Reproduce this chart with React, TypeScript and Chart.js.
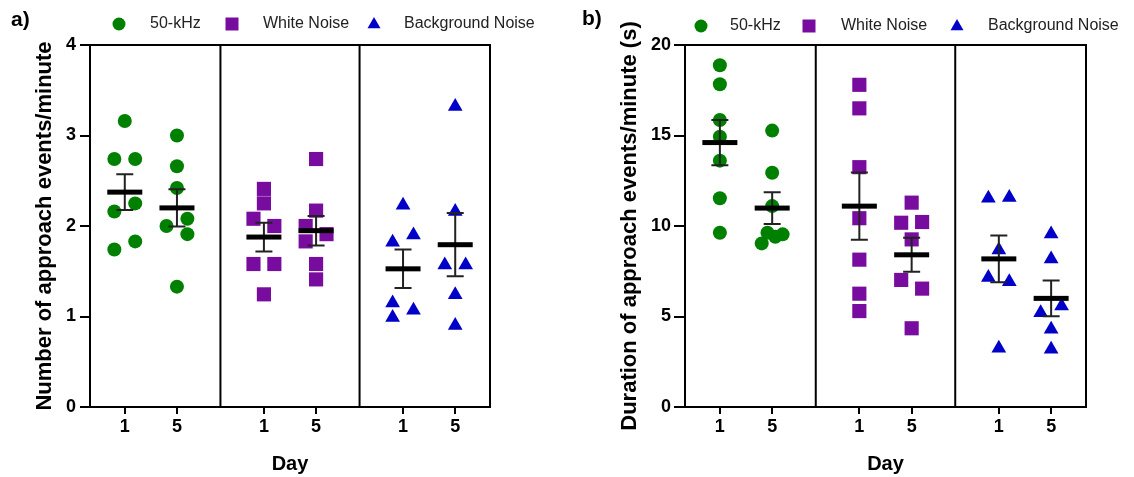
import React, { useEffect, useRef } from "react";
import { Chart, registerables } from "chart.js";
Chart.register(...registerables);

const FONT = "'Liberation Sans', Arial, Helvetica, sans-serif";

// ---- shared labels / styling ----
const groupNames = ["50-kHz", "White Noise", "Background Noise"];
const dayLabels = ["1", "5"];
const groupColors = ["#008000", "#780c9e", "#0000c8"];
const groupShapes = ["circle", "rect", "triangle"];
const groupRadius = [7, 10, 8.5];

// category x-positions (1,5 | 1,5 | 1,5) and divider positions
const categoryX = [0, 1, 8 / 3, 11 / 3, 16 / 3, 19 / 3];
const dividerX = [11 / 6, 4.5];
const jitterStep = 0.2;

// ---- Panel a: Number of approach events/minute ----
const a_50kHz_day1 = [3.16, 2.74, 2.74, 2.25, 2.16, 1.83, 1.74];
const a_50kHz_day5 = [3.0, 2.66, 2.42, 2.08, 2.0, 1.91, 1.33];
const a_white_day1 = [2.41, 2.25, 2.08, 2.0, 1.58, 1.58, 1.245];
const a_white_day5 = [2.74, 2.17, 2.0, 1.91, 1.83, 1.58, 1.41];
const a_bg_day1 = [2.23, 1.9, 1.82, 1.15, 1.07, 0.99];
const a_bg_day5 = [3.32, 2.16, 1.57, 1.57, 1.24, 0.9];
const a_jitter = [
  [0, -1, 1, 1, -1, 1, -1],
  [0, 0, 0, 1, -1, 1, 0],
  [0, 0, -1, 1, -1, 1, 0],
  [0, 0, -1, 1, -1, 0, 0],
  [0, 1, -1, -1, 1, -1],
  [0, 0, -1, 1, 0, 0],
];
const a_yTicks = [0, 1, 2, 3, 4];

// ---- Panel b: Duration of approach events/minute (s) ----
const b_50kHz_day1 = [18.88, 17.83, 15.86, 14.93, 13.61, 11.53, 9.63];
const b_50kHz_day5 = [15.27, 12.94, 11.1, 9.63, 9.54, 9.41, 9.04];
const b_white_day1 = [17.8, 16.5, 13.25, 10.43, 8.14, 6.26, 5.3];
const b_white_day5 = [11.29, 10.18, 10.22, 9.26, 7.02, 6.54, 4.35];
const b_bg_day1 = [11.53, 11.58, 8.67, 7.16, 6.92, 3.24];
const b_bg_day5 = [9.56, 8.18, 5.58, 5.21, 4.29, 3.19];
const b_jitter = [
  [0, 0, 0, 0, 0, 0, 0],
  [0, 0, 0, -0.45, 1, 0.3, -1],
  [0, 0, 0, 0, 0, 0, 0],
  [0, -1, 1, 0, -1, 1, 0],
  [-1, 1, 0, -1, 1, 0],
  [0, 0, 1, -1, 0, 0],
];
const b_yTicks = [0, 5, 10, 15, 20];

type PanelCfg = {
  label: string;
  yTitle: string;
  yTicks: number[];
  series: number[][];
  jitter: number[][];
  yWidth: number;
  rightPad: number;
  tickLen: number;
  tickPad: number;
  titlePad: number;
  legendY: number;
  legendMarkerX: number[];
  legendTextX: number[];
  labelX: number;
  labelY: number;
};

function drawShape(ctx: CanvasRenderingContext2D, shape: string, x: number, y: number, s: number) {
  ctx.beginPath();
  if (shape === "circle") {
    ctx.arc(x, y, s / 2, 0, Math.PI * 2);
  } else if (shape === "rect") {
    ctx.rect(x - s / 2, y - s / 2, s, s);
  } else {
    const h = s * 0.87;
    ctx.moveTo(x, y - h * 0.62);
    ctx.lineTo(x + s / 2, y + h * 0.38);
    ctx.lineTo(x - s / 2, y + h * 0.38);
    ctx.closePath();
  }
  ctx.fill();
}

const decorPlugin = {
  id: "decor",
  afterDatasetsDraw(chart: any, _args: any, opts: any) {
    const { ctx, chartArea } = chart;
    const xs = chart.scales.x;
    const ys = chart.scales.y;
    ctx.save();
    // frame: top, dividers, right
    ctx.strokeStyle = "#000";
    ctx.lineWidth = 2;
    ctx.beginPath();
    ctx.moveTo(chartArea.left - 1, chartArea.top);
    ctx.lineTo(chartArea.right + 1, chartArea.top);
    ctx.moveTo(chartArea.right, chartArea.top);
    ctx.lineTo(chartArea.right, chartArea.bottom);
    for (const d of dividerX) {
      const px = xs.getPixelForValue(d);
      ctx.moveTo(px, chartArea.top);
      ctx.lineTo(px, chartArea.bottom);
    }
    ctx.stroke();
    // mean +/- SEM
    const cfg: PanelCfg = opts.cfg;
    cfg.series.forEach((vals, i) => {
      const n = vals.length;
      const mean = vals.reduce((a, b) => a + b, 0) / n;
      const sd = Math.sqrt(vals.reduce((a, b) => a + (b - mean) * (b - mean), 0) / (n - 1));
      const sem = sd / Math.sqrt(n);
      const cx = xs.getPixelForValue(categoryX[i]);
      const yTop = ys.getPixelForValue(mean + sem);
      const yBot = ys.getPixelForValue(mean - sem);
      const yMean = ys.getPixelForValue(mean);
      ctx.strokeStyle = "#222";
      ctx.lineWidth = 2;
      ctx.beginPath();
      ctx.moveTo(cx, yTop);
      ctx.lineTo(cx, yBot);
      ctx.moveTo(cx - 8.5, yTop);
      ctx.lineTo(cx + 8.5, yTop);
      ctx.moveTo(cx - 8.5, yBot);
      ctx.lineTo(cx + 8.5, yBot);
      ctx.stroke();
      ctx.fillStyle = "#000";
      ctx.fillRect(cx - 17.5, yMean - 2.5, 35, 5);
    });
    ctx.restore();
  },
  afterDraw(chart: any, _args: any, opts: any) {
    const { ctx } = chart;
    const cfg: PanelCfg = opts.cfg;
    ctx.save();
    // panel label
    ctx.fillStyle = "#000";
    ctx.font = `bold 21px ${FONT}`;
    ctx.textBaseline = "middle";
    ctx.textAlign = "left";
    ctx.fillText(cfg.label, cfg.labelX, cfg.labelY);
    // legend
    ctx.font = `16px ${FONT}`;
    groupNames.forEach((name, i) => {
      ctx.fillStyle = groupColors[i];
      drawShape(ctx, groupShapes[i], cfg.legendMarkerX[i], cfg.legendY, 13);
      ctx.fillStyle = "#222";
      ctx.fillText(name, cfg.legendTextX[i], cfg.legendY);
    });
    ctx.restore();
  },
};

function Panel({ cfg }: { cfg: PanelCfg }) {
  const ref = useRef<HTMLCanvasElement | null>(null);
  useEffect(() => {
    if (!ref.current) return;
    const datasets = cfg.series.map((vals, i) => {
      const g = Math.floor(i / 2);
      return {
        label: `${groupNames[g]} day ${dayLabels[i % 2]}`,
        data: vals.map((v, k) => ({ x: categoryX[i] + cfg.jitter[i][k] * jitterStep, y: v })),
        pointStyle: groupShapes[g],
        pointRadius: groupRadius[g],
        pointBackgroundColor: groupColors[g],
        pointBorderColor: groupColors[g],
        pointBorderWidth: 0,
        showLine: false,
      };
    });
    const chart = new Chart(ref.current, {
      type: "scatter",
      data: { datasets },
      plugins: [decorPlugin],
      options: {
        animation: false,
        responsive: false,
        devicePixelRatio: 1,
        layout: { padding: { top: 45, right: cfg.rightPad, left: 0, bottom: 0 } },
        plugins: {
          legend: { display: false },
          tooltip: { enabled: false },
          decor: { cfg },
        } as any,
        scales: {
          x: {
            type: "linear",
            min: -2 / 3,
            max: 7,
            afterBuildTicks: (s: any) => {
              s.ticks = categoryX.map((v) => ({ value: v }));
            },
            afterFit: (s: any) => {
              s.height = 70;
            },
            ticks: {
              autoSkip: false,
              maxRotation: 0,
              padding: 2,
              color: "#000",
              font: { family: FONT, size: 18, weight: "bold" },
              callback: (_v: any, i: number) => dayLabels[i % 2],
            },
            grid: { display: true, drawOnChartArea: false, drawTicks: true, tickLength: 7, lineWidth: 2, color: "#000" },
            border: { display: true, width: 2, color: "#000" },
            title: {
              display: true,
              text: "Day",
              color: "#000",
              font: { family: FONT, size: 20, weight: "bold" },
              padding: { top: 0, bottom: 1 },
            },
          },
          y: {
            type: "linear",
            min: cfg.yTicks[0],
            max: cfg.yTicks[cfg.yTicks.length - 1],
            afterBuildTicks: (s: any) => {
              s.ticks = cfg.yTicks.map((v) => ({ value: v }));
            },
            afterFit: (s: any) => {
              s.width = cfg.yWidth;
            },
            ticks: {
              padding: cfg.tickPad,
              color: "#000",
              font: { family: FONT, size: 18, weight: "bold" },
            },
            grid: { display: true, drawOnChartArea: false, drawTicks: true, tickLength: cfg.tickLen, lineWidth: 2, color: "#000" },
            border: { display: true, width: 2, color: "#000" },
            title: {
              display: true,
              text: cfg.yTitle,
              color: "#000",
              font: { family: FONT, size: 22, weight: "bold" },
              padding: { top: cfg.titlePad, bottom: 0 },
            },
          },
        },
      } as any,
    });
    return () => chart.destroy();
  }, [cfg]);
  return <canvas ref={ref} width={567} height={477} style={{ display: "block" }} />;
}

const panelA: PanelCfg = {
  label: "a)",
  yTitle: "Number of approach events/minute",
  yTicks: a_yTicks,
  series: [a_50kHz_day1, a_50kHz_day5, a_white_day1, a_white_day5, a_bg_day1, a_bg_day5],
  jitter: a_jitter,
  yWidth: 90,
  rightPad: 77,
  tickLen: 10,
  tickPad: 4,
  titlePad: 32,
  legendY: 24,
  legendMarkerX: [119, 232, 374],
  legendTextX: [150, 263, 404],
  labelX: 11,
  labelY: 20,
};

const panelB: PanelCfg = {
  label: "b)",
  yTitle: "Duration of approach events/minute (s)",
  yTicks: b_yTicks,
  series: [b_50kHz_day1, b_50kHz_day5, b_white_day1, b_white_day5, b_bg_day1, b_bg_day5],
  jitter: b_jitter,
  yWidth: 118,
  rightPad: 48,
  tickLen: 11,
  tickPad: 3,
  titlePad: 50,
  legendY: 26,
  legendMarkerX: [134, 242, 390],
  legendTextX: [163, 274, 421],
  labelX: 15,
  labelY: 19,
};

export default function App() {
  return (
    <div
      style={{
        position: "absolute",
        left: 0,
        top: 0,
        width: 1134,
        height: 477,
        display: "flex",
        background: "#fff",
      }}
    >
      <Panel cfg={panelA} />
      <Panel cfg={panelB} />
    </div>
  );
}
